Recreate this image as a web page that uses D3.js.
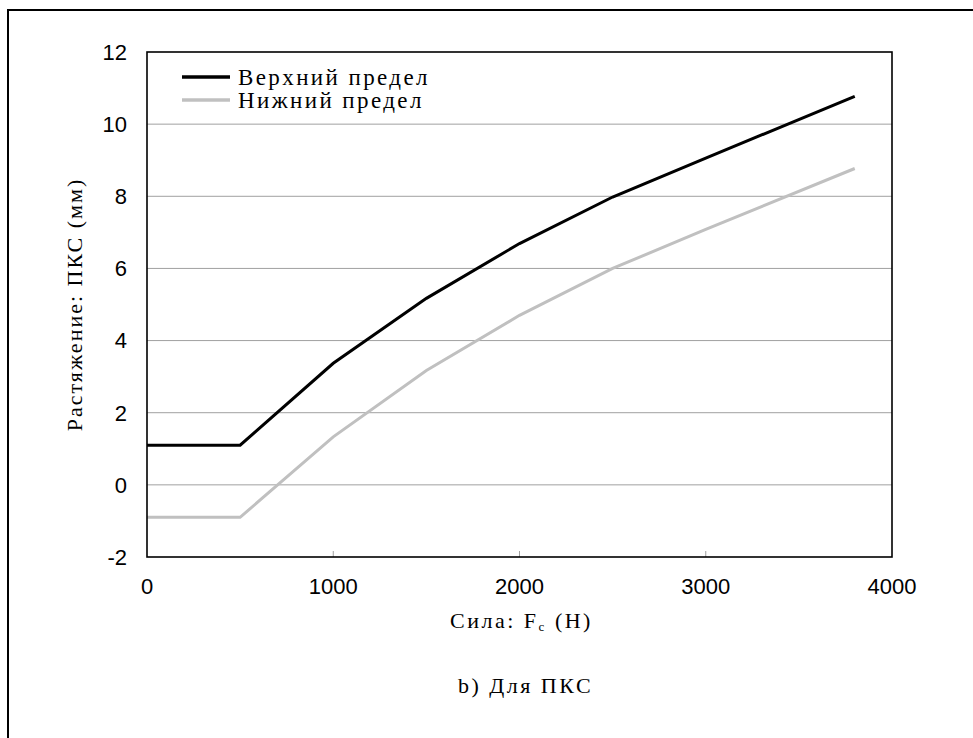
<!DOCTYPE html>
<html><head><meta charset="utf-8">
<script src="https://cdn.jsdelivr.net/npm/d3@7"></script>
<style>body{margin:0;background:#fff}svg{display:block}</style>
</head><body>
<script>
const forceN = [0, 500, 1000, 1500, 2000, 2500, 3000, 3800];
const upperLimit = [1.1, 1.1, 3.37, 5.17, 6.69, 7.98, 9.06, 10.77];
const lowerLimit = [-0.9, -0.9, 1.33, 3.17, 4.7, 6.0, 7.08, 8.77];
const seriesNames = ["Верхний предел", "Нижний предел"];
const xTicks = [0, 1000, 2000, 3000, 4000];
const yTicks = [-2, 0, 2, 4, 6, 8, 10, 12];

const W = 973, H = 738;
const m = {left: 147, right: 973 - 892, top: 52, bottom: 738 - 557};
const svg = d3.select("body").append("svg").attr("width", W).attr("height", H);

// outer frame (extends past window right/bottom)
svg.append("rect").attr("x", 8).attr("y", 10).attr("width", 1000).attr("height", 800)
  .attr("fill", "none").attr("stroke", "#000").attr("stroke-width", 2);

const x = d3.scaleLinear().domain([0, 4000]).range([m.left, W - m.right]);
const y = d3.scaleLinear().domain([-2, 12]).range([H - m.bottom, m.top]);

// gridlines
svg.append("g").selectAll("line").data(yTicks.filter(v => v > -2 && v < 12)).join("line")
  .attr("x1", x(0)).attr("x2", x(4000)).attr("y1", d => y(d)).attr("y2", d => y(d))
  .attr("stroke", "#a0a0a0").attr("stroke-width", 1);

// x tick marks (inside)
svg.append("g").selectAll("line").data(xTicks.filter(v => v > 0 && v < 4000)).join("line")
  .attr("x1", d => x(d)).attr("x2", d => x(d)).attr("y1", y(-2)).attr("y2", y(-2) - 6)
  .attr("stroke", "#a0a0a0").attr("stroke-width", 1);

// lines
const line = d3.line().x(d => x(d[0])).y(d => y(d[1]));
const series = [
  {name: seriesNames[0], vals: upperLimit, color: "#000"},
  {name: seriesNames[1], vals: lowerLimit, color: "#c0c0c0"}
];
series.slice().reverse().forEach(s => {
  svg.append("path").datum(forceN.map((f, i) => [f, s.vals[i]]))
    .attr("d", line).attr("fill", "none").attr("stroke", s.color).attr("stroke-width", 3);
});

// plot frame
svg.append("rect").attr("x", x(0)).attr("y", y(12)).attr("width", x(4000) - x(0)).attr("height", y(-2) - y(12))
  .attr("fill", "none").attr("stroke", "#000").attr("stroke-width", 1.6);

// tick labels
const sans = "'Liberation Sans', Arial, sans-serif";
svg.append("g").selectAll("text").data(yTicks).join("text")
  .attr("x", m.left - 20).attr("y", d => y(d)).attr("dy", "0.36em")
  .attr("text-anchor", "end").attr("font-family", sans).attr("font-size", 22)
  .text(d => d);
svg.append("g").selectAll("text").data(xTicks).join("text")
  .attr("x", d => x(d)).attr("y", 594)
  .attr("text-anchor", "middle").attr("font-family", sans).attr("font-size", 22)
  .text(d => d);

const serif = "'Liberation Serif', 'Times New Roman', serif";
// x title
const xt = svg.append("text").attr("x", (x(0) + x(4000)) / 2 + 2).attr("y", 628)
  .attr("text-anchor", "middle").attr("font-family", serif).attr("font-size", 22).attr("letter-spacing", 2.5);
xt.append("tspan").text("Сила: F");
xt.append("tspan").attr("font-size", 13).attr("dy", 3).text("c");
xt.append("tspan").attr("dy", -3).text(" (Н)");

// y title
svg.append("text").attr("transform", `translate(82,${(y(-2) + y(12)) / 2}) rotate(-90)`)
  .attr("text-anchor", "middle").attr("font-family", serif).attr("font-size", 22).attr("letter-spacing", 2)
  .text("Растяжение: ПКС (мм)");

// caption
svg.append("text").attr("x", (x(0) + x(4000)) / 2 + 6).attr("y", 693)
  .attr("text-anchor", "middle").attr("font-family", serif).attr("font-size", 22).attr("letter-spacing", 2.5)
  .text("b) Для ПКС");

// legend
series.forEach((s, i) => {
  const ly = 77 + i * 23;
  svg.append("line").attr("x1", 182).attr("x2", 230).attr("y1", ly).attr("y2", ly)
    .attr("stroke", s.color).attr("stroke-width", 3.5);
  svg.append("text").attr("x", 238).attr("y", ly).attr("dy", "0.35em")
    .attr("font-family", serif).attr("font-size", 23).attr("letter-spacing", 2.4)
    .text(s.name);
});
</script>
</body></html>
